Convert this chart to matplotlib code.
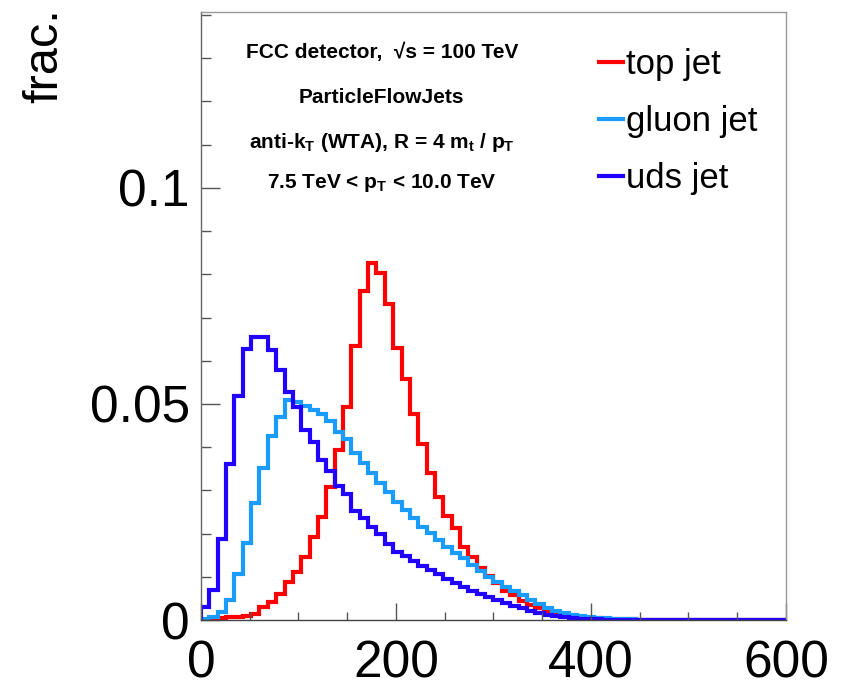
import numpy as np
import matplotlib
matplotlib.use("Agg")
import matplotlib.pyplot as plt
from matplotlib.ticker import MultipleLocator

plt.rcParams['font.family'] = ['Liberation Sans', 'DejaVu Sans']
plt.rcParams['mathtext.default'] = 'regular'

# 70 bins between 0 and 600, fraction of jets per bin
bin_edges = np.linspace(0, 600, 71)

top_jet = [0.0001, 0.0002, 0.0004, 0.0006, 0.0007, 0.0009, 0.0015, 0.0029, 0.0042, 0.0060,
           0.0088, 0.0112, 0.0145, 0.0192, 0.0238, 0.0308, 0.0394, 0.0492, 0.0633, 0.0762,
           0.0827, 0.0804, 0.0731, 0.0629, 0.0557, 0.0477, 0.0407, 0.0341, 0.0285, 0.0241,
           0.0214, 0.0170, 0.0146, 0.0120, 0.0103, 0.0086, 0.0067, 0.0057, 0.0045, 0.0035,
           0.0028, 0.0021, 0.0015, 0.0012, 0.0009, 0.0007, 0.0005, 0.0004, 0.0003, 0.0003,
           0.0002, 0.0002, 0.0001, 0.0001, 0.0001, 0.0001, 0.0, 0.0, 0.0, 0.0,
           0.0, 0.0, 0.0, 0.0, 0.0, 0.0, 0.0, 0.0, 0.0, 0.0]

gluon_jet = [0.0003, 0.0008, 0.0019, 0.0047, 0.0107, 0.0179, 0.0270, 0.0352, 0.0425, 0.0469,
             0.0508, 0.0505, 0.0496, 0.0487, 0.0476, 0.0460, 0.0436, 0.0418, 0.0386, 0.0364,
             0.0340, 0.0318, 0.0297, 0.0274, 0.0255, 0.0235, 0.0216, 0.0201, 0.0185, 0.0170,
             0.0154, 0.0143, 0.0128, 0.0114, 0.0100, 0.0089, 0.0077, 0.0066, 0.0057, 0.0046,
             0.0036, 0.0028, 0.0022, 0.0016, 0.0012, 0.0009, 0.0007, 0.0005, 0.0004, 0.0003,
             0.0002, 0.0002, 0.0001, 0.0001, 0.0, 0.0, 0.0, 0.0, 0.0, 0.0,
             0.0, 0.0, 0.0, 0.0, 0.0, 0.0, 0.0, 0.0, 0.0, 0.0]

uds_jet = [0.0031, 0.0070, 0.0188, 0.0361, 0.0519, 0.0627, 0.0656, 0.0656, 0.0626, 0.0579,
           0.0527, 0.0492, 0.0440, 0.0411, 0.0370, 0.0345, 0.0310, 0.0291, 0.0253, 0.0235,
           0.0216, 0.0199, 0.0177, 0.0158, 0.0147, 0.0137, 0.0126, 0.0116, 0.0106, 0.0096,
           0.0086, 0.0077, 0.0068, 0.0060, 0.0054, 0.0047, 0.0040, 0.0033, 0.0027, 0.0021,
           0.0016, 0.0012, 0.0009, 0.0006, 0.0004, 0.0003, 0.0002, 0.0002, 0.0001, 0.0,
           0.0, 0.0, 0.0, 0.0, 0.0, 0.0, 0.0, 0.0, 0.0, 0.0,
           0.0, 0.0, 0.0, 0.0, 0.0, 0.0, 0.0, 0.0, 0.0, 0.0]

labels = ['top jet', 'gluon jet', 'uds jet']
colors = ['#ff0000', '#1a9cff', '#2200ff']

info_lines = [
    'FCC detector,  √s = 100 TeV',
    'ParticleFlowJets',
    r'anti-k$_{T}$ (WTA), R = 4 m$_{t}$ / p$_{T}$',
    r'7.5 TeV < p$_{T}$ < 10.0 TeV',
]

fig = plt.figure(figsize=(8.41, 6.87), dpi=100)
ax = fig.add_axes([0.239, 0.0975, 0.6955, 0.885])

for vals, lab, col in zip([top_jet, gluon_jet, uds_jet], labels, colors):
    ax.stairs(vals, bin_edges, color=col, lw=3.0, label=lab)

ax.set_xlim(0, 600)
ax.set_ylim(0, 0.1407)
ax.xaxis.set_major_locator(MultipleLocator(200))
ax.xaxis.set_minor_locator(MultipleLocator(50))
ax.yaxis.set_major_locator(MultipleLocator(0.05))
ax.yaxis.set_minor_locator(MultipleLocator(0.01))
ax.set_yticks([0, 0.05, 0.1])
ax.set_yticklabels(['0', '0.05', '0.1'])

ax.tick_params(axis='both', which='both', direction='in', colors='#555555',
               labelcolor='black', labelsize=37, width=1.0)
ax.tick_params(axis='x', which='major', length=12, pad=14)
ax.tick_params(axis='x', which='minor', length=6)
ax.tick_params(axis='y', which='major', length=14, pad=8)
ax.tick_params(axis='y', which='minor', length=7)

ax.spines['left'].set_color('#666666')
ax.spines['bottom'].set_color('#444444')
ax.spines['top'].set_color('#999999')
ax.spines['right'].set_color('#999999')
for s in ax.spines.values():
    s.set_linewidth(1.0)

fig.text(0.0535, 0.988, 'frac.', rotation=90, ha='center', va='top', fontsize=35)

for txt, yy in zip(info_lines, [0.934, 0.859, 0.786, 0.719]):
    ax.text(0.309, yy, txt, transform=ax.transAxes, ha='center', va='center',
            fontsize=15, fontweight='bold')

leg = ax.legend(loc='upper left', bbox_to_anchor=(0.656, 0.964), frameon=False,
                fontsize=25, handlelength=0.7, handletextpad=0.1, labelspacing=0.7,
                borderaxespad=0)

fig.savefig('out.png', dpi=100)
